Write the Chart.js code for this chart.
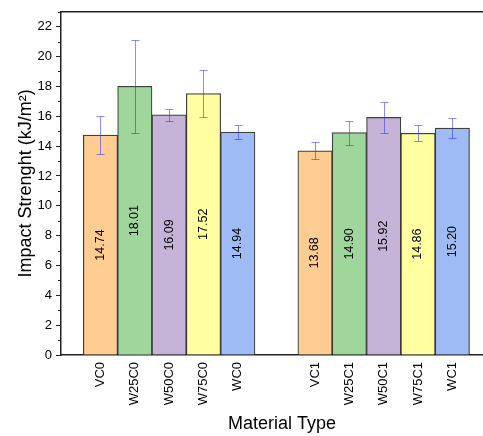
<!DOCTYPE html>
<html>
<head>
<meta charset="utf-8">
<script src="https://cdn.jsdelivr.net/npm/chart.js@4.4.1/dist/chart.umd.min.js"></script>
<style>
  html, body { margin: 0; padding: 0; background: #fff; overflow: hidden; width: 483px; height: 436px; }
  canvas { display: block; }
</style>
</head>
<body>
<canvas id="c" width="503" height="436"></canvas>
<script>
// ---- data ----
const categories = ['VC0', 'W25C0', 'W50C0', 'W75C0', 'WC0', 'VC1', 'W25C1', 'W50C1', 'W75C1', 'WC1'];
const impact = [14.74, 18.01, 16.09, 17.52, 14.94, 13.68, 14.90, 15.92, 14.86, 15.20];
const errors = [1.30, 3.13, 0.42, 1.60, 0.48, 0.57, 0.80, 1.05, 0.53, 0.69];
const yTickValues = [0, 2, 4, 6, 8, 10, 12, 14, 16, 18, 20, 22];
const yMinorValues = [1, 3, 5, 7, 9, 11, 13, 15, 17, 19, 21, 23];

// ---- layout / style ----
const GROUP_SIZE = 5;
const GROUP_STEP = 6.25;
const slot = i => 1 + (i % GROUP_SIZE) + Math.floor(i / GROUP_SIZE) * GROUP_STEP;
const xs = categories.map((_, i) => slot(i));
const palette = ['#FFCC91', '#9ED69B', '#C6B4D8', '#FFFFA1', '#9EBBF5'];
const FONT = "'Liberation Sans', Arial, sans-serif";

const decorations = {
  id: 'decorations',
  afterDatasetsDraw(chart) {
    const ctx = chart.ctx;
    const x = chart.scales.x, y = chart.scales.y;
    const area = chart.chartArea;
    ctx.save();
    // error bars
    ctx.strokeStyle = 'rgba(45,45,255,0.55)';
    ctx.lineWidth = 1;
    impact.forEach((v, i) => {
      const px = Math.round(x.getPixelForValue(xs[i])) + 0.5;
      const yt = Math.round(y.getPixelForValue(v + errors[i])) + 0.5;
      const yb = Math.round(y.getPixelForValue(v - errors[i])) + 0.5;
      ctx.beginPath();
      ctx.moveTo(px, yt); ctx.lineTo(px, yb);
      ctx.moveTo(px - 4, yt); ctx.lineTo(px + 4, yt);
      ctx.moveTo(px - 4, yb); ctx.lineTo(px + 4, yb);
      ctx.stroke();
    });
    // value labels
    ctx.fillStyle = '#000';
    ctx.font = '12.5px ' + FONT;
    ctx.textAlign = 'center';
    ctx.textBaseline = 'middle';
    impact.forEach((v, i) => {
      const px = x.getPixelForValue(xs[i]);
      const py = (y.getPixelForValue(v) + y.getPixelForValue(0)) / 2;
      ctx.save();
      ctx.translate(px, py);
      ctx.rotate(-Math.PI / 2);
      ctx.fillText(v.toFixed(2), 0, 0);
      ctx.restore();
    });
    // minor ticks on y axis
    ctx.strokeStyle = '#222';
    ctx.lineWidth = 1;
    yMinorValues.forEach(v => {
      const py = Math.round(y.getPixelForValue(v)) + 0.5;
      ctx.beginPath();
      ctx.moveTo(area.left - 3, py); ctx.lineTo(area.left, py);
      ctx.stroke();
    });
    // top and right frame lines
    ctx.lineWidth = 1.5;
    ctx.beginPath();
    ctx.moveTo(area.left - 0.75, area.top);
    ctx.lineTo(area.right, area.top);
    ctx.lineTo(area.right, area.bottom);
    ctx.stroke();
    ctx.restore();
  }
};

new Chart(document.getElementById('c'), {
  type: 'bar',
  data: {
    datasets: [{
      data: impact.map((v, i) => ({ x: xs[i], y: v })),
      backgroundColor: categories.map((_, i) => palette[i % GROUP_SIZE]),
      borderColor: 'rgba(30,30,30,0.85)',
      borderWidth: 1.2,
      borderSkipped: 'bottom',
      barPercentage: 1,
      categoryPercentage: 1
    }]
  },
  options: {
    responsive: false,
    animation: false,
    layout: { padding: { top: 10, right: 0, bottom: 0, left: 0 } },
    plugins: { legend: { display: false }, tooltip: { enabled: false } },
    scales: {
      x: {
        type: 'linear',
        offset: false,
        min: -0.15,
        max: 12.725,
        bounds: 'data',
        afterBuildTicks: s => { s.ticks = xs.map(v => ({ value: v })); },
        afterFit: s => { s.height = 81; },
        grid: { display: true, offset: false, drawOnChartArea: false, drawTicks: false },
        border: { display: true, color: '#222', width: 1.5 },
        ticks: {
          autoSkip: false,
          maxRotation: 90,
          minRotation: 90,
          padding: 7,
          color: '#000',
          font: { family: FONT, size: 13 },
          callback: (value, index) => categories[index]
        },
        title: {
          display: true,
          text: 'Material Type',
          color: '#000',
          font: { family: FONT, size: 18 },
          padding: { top: 0, bottom: 1 }
        }
      },
      y: {
        min: 0,
        max: 23,
        afterBuildTicks: s => { s.ticks = yTickValues.map(v => ({ value: v })); },
        afterFit: s => { s.width = 61; },
        grid: { display: true, drawOnChartArea: false, drawTicks: true, tickLength: 5, color: '#222', lineWidth: 1 },
        border: { display: true, color: '#222', width: 1.5 },
        ticks: {
          padding: 4,
          color: '#000',
          font: { family: FONT, size: 13 },
          callback: v => String(v)
        },
        title: {
          display: true,
          text: 'Impact Strenght (kJ/m²)',
          color: '#000',
          font: { family: FONT, size: 18 },
          padding: { top: 15, bottom: 0 }
        }
      }
    }
  },
  plugins: [decorations]
});
</script>
</body>
</html>
